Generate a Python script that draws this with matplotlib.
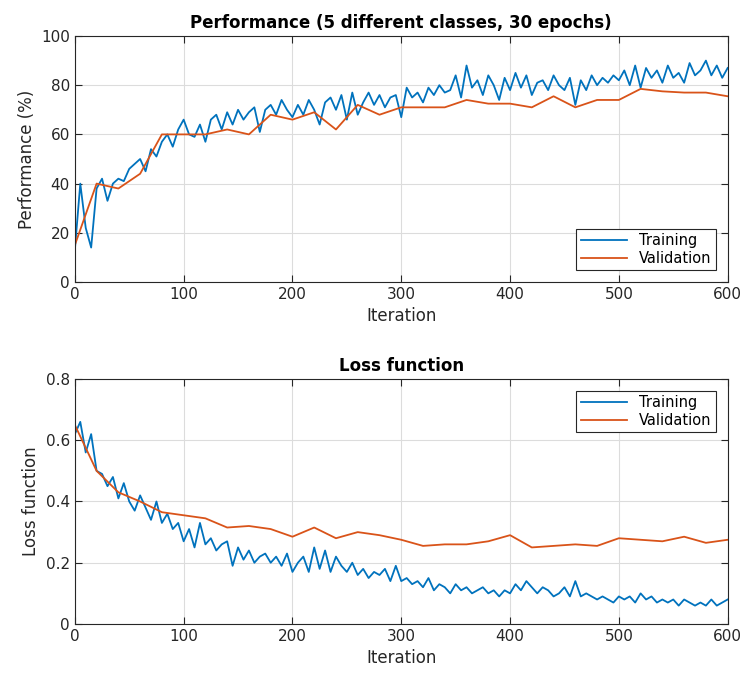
import numpy as np
import matplotlib
matplotlib.use("Agg")
import matplotlib.pyplot as plt

# iterations
it_train = np.arange(0, 601, 5)
it_val = np.arange(0, 601, 20)

# performance (%) - training, read every 5 iterations
perf_train = [13, 40, 22, 14, 38, 42, 33, 40, 42, 41,
              46, 48, 50, 45, 54, 51, 57, 60, 55, 62,
              66, 60, 59, 64, 57, 66, 68, 62, 69, 64,
              70, 66, 69, 71, 61, 70, 72, 68, 74, 70,
              67, 72, 68, 74, 70, 64, 73, 75, 70, 76,
              66, 77, 68, 73, 77, 72, 76, 71, 75, 76,
              67, 79, 75, 77, 73, 79, 76, 80, 77, 78,
              84, 75, 88, 79, 82, 76, 84, 80, 74, 83,
              78, 85, 79, 84, 76, 81, 82, 78, 84, 80,
              78, 83, 72, 82, 78, 84, 80, 83, 81, 84,
              82, 86, 80, 88, 79, 87, 83, 86, 81, 88,
              83, 85, 81, 89, 84, 86, 90, 84, 88, 83,
              87]
perf_val = [15, 40, 38, 44, 60, 60, 60, 62, 60, 68,
            66, 69, 62, 72, 68, 71, 71, 71, 74, 72.5,
            72.5, 71, 75.5, 71, 74, 74, 78.5, 77.5, 77, 77,
            75.5]

# loss - training, read every 5 iterations
loss_train = [0.62, 0.66, 0.56, 0.62, 0.50, 0.49, 0.45, 0.48, 0.41, 0.46,
              0.40, 0.37, 0.42, 0.38, 0.34, 0.40, 0.33, 0.36, 0.31, 0.33,
              0.27, 0.31, 0.25, 0.33, 0.26, 0.28, 0.24, 0.26, 0.27, 0.19,
              0.25, 0.21, 0.24, 0.20, 0.22, 0.23, 0.20, 0.22, 0.19, 0.23,
              0.17, 0.20, 0.22, 0.17, 0.25, 0.18, 0.24, 0.17, 0.22, 0.19,
              0.17, 0.20, 0.16, 0.18, 0.15, 0.17, 0.16, 0.18, 0.14, 0.19,
              0.14, 0.15, 0.13, 0.14, 0.12, 0.15, 0.11, 0.13, 0.12, 0.10,
              0.13, 0.11, 0.12, 0.10, 0.11, 0.12, 0.10, 0.11, 0.09, 0.11,
              0.10, 0.13, 0.11, 0.14, 0.12, 0.10, 0.12, 0.11, 0.09, 0.10,
              0.12, 0.09, 0.14, 0.09, 0.10, 0.09, 0.08, 0.09, 0.08, 0.07,
              0.09, 0.08, 0.09, 0.07, 0.10, 0.08, 0.09, 0.07, 0.08, 0.07,
              0.08, 0.06, 0.08, 0.07, 0.06, 0.07, 0.06, 0.08, 0.06, 0.07,
              0.08]
loss_val = [0.65, 0.50, 0.43, 0.40, 0.365, 0.355, 0.345, 0.315, 0.32, 0.31,
            0.285, 0.315, 0.28, 0.30, 0.29, 0.275, 0.255, 0.26, 0.26, 0.27,
            0.29, 0.25, 0.255, 0.26, 0.255, 0.28, 0.275, 0.27, 0.285, 0.265,
            0.275]

blue = "#0072BD"
orange = "#D95319"

plt.rcParams["font.family"] = "DejaVu Sans"
fig = plt.figure(figsize=(7.41, 6.74), dpi=100)
ax1 = fig.add_axes([0.101, 0.5816, 0.881, 0.365])
ax2 = fig.add_axes([0.101, 0.0742, 0.881, 0.3635])


def style(ax, title, ylabel):
    ax.set_xlim(0, 600)
    ax.set_xticks(np.arange(0, 601, 100))
    ax.grid(True, color="#dcdcdc", linewidth=0.8)
    ax.set_axisbelow(True)
    ax.tick_params(direction="in", top=True, right=True, labelsize=11,
                   colors="#262626", length=5)
    for s in ax.spines.values():
        s.set_color("#262626")
        s.set_linewidth(0.8)
    ax.set_title(title, fontsize=12, fontweight="bold", pad=6)
    ax.set_xlabel("Iteration", fontsize=12, color="#262626")
    ax.set_ylabel(ylabel, fontsize=12, color="#262626")


ax1.plot(it_train, perf_train, color=blue, lw=1.3, label="Training")
ax1.plot(it_val, perf_val, color=orange, lw=1.3, label="Validation")
ax1.set_ylim(0, 100)
ax1.set_yticks(np.arange(0, 101, 20))
style(ax1, "Performance (5 different classes, 30 epochs)", "Performance (%)")
leg1 = ax1.legend(loc="lower right", fontsize=10.5, fancybox=False,
                  edgecolor="#262626", framealpha=1, borderaxespad=0.8,
                  handlelength=3.2, borderpad=0.3, labelspacing=0.2)
leg1.get_frame().set_linewidth(0.8)

ax2.plot(it_train, loss_train, color=blue, lw=1.3, label="Training")
ax2.plot(it_val, loss_val, color=orange, lw=1.3, label="Validation")
ax2.set_ylim(0, 0.8)
ax2.set_yticks(np.arange(0, 0.81, 0.2))
ax2.set_yticklabels(["0", "0.2", "0.4", "0.6", "0.8"])
style(ax2, "Loss function", "Loss function")
leg2 = ax2.legend(loc="upper right", fontsize=10.5, fancybox=False,
                  edgecolor="#262626", framealpha=1, borderaxespad=0.8,
                  handlelength=3.2, borderpad=0.3, labelspacing=0.2)
leg2.get_frame().set_linewidth(0.8)

fig.savefig("out.png", dpi=100)
